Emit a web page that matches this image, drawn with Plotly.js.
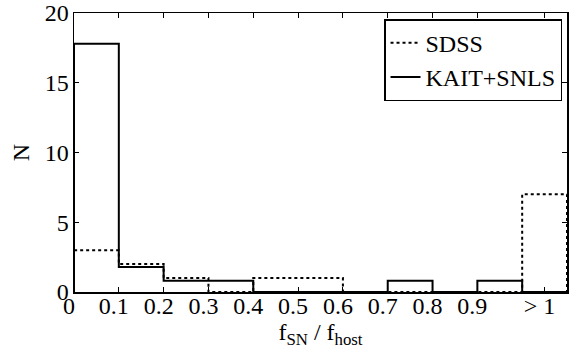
<!DOCTYPE html>
<html>
<head>
<meta charset="utf-8">
<script src="https://cdn.plot.ly/plotly-3.0.1.min.js"></script>
<style>html,body{margin:0;padding:0;background:#fff;}#chart{width:570px;height:363px;}</style>
</head>
<body>
<div id="chart"></div>
<script>
// Bin edges (the last bin, 1.0-1.1, stands for "> 1")
var binEdges = [0, 0.1, 0.2, 0.3, 0.4, 0.5, 0.6, 0.7, 0.8, 0.9, 1.0, 1.1];
var sdssCounts = [3, 2, 1, 0, 1, 1, 0, 0, 0, 0, 7];
var kaitSnlsCounts = [17.8, 1.8, 0.8, 0.8, 0, 0, 0, 0.8, 0, 0.8, 0];
var tickPositions = [0, 0.1, 0.2, 0.3, 0.4, 0.5, 0.6, 0.7, 0.8, 0.9, 1.05];
var tickLabels = ['0', '0.1', '0.2', '0.3', '0.4', '0.5', '0.6', '0.7', '0.8', '0.9', '> 1'];
var yTicks = [0, 5, 10, 15, 20];

function stairs(edges, counts) {
  var xs = [edges[0]], ys = [0];
  for (var i = 0; i < counts.length; i++) {
    xs.push(edges[i]); ys.push(counts[i]);
    xs.push(edges[i + 1]); ys.push(counts[i]);
  }
  xs.push(edges[edges.length - 1]); ys.push(0);
  return {x: xs, y: ys};
}

var s1 = stairs(binEdges, sdssCounts);
var s2 = stairs(binEdges, kaitSnlsCounts);

var font = 'Liberation Serif';
var data = [
  {x: s1.x, y: s1.y, mode: 'lines', name: 'SDSS', line: {color: '#000', width: 2, dash: '3px,3px'}},
  {x: s2.x, y: s2.y, mode: 'lines', name: 'KAIT+SNLS', line: {color: '#000', width: 2}}
];

var layout = {
  width: 570, height: 363,
  margin: {l: 74, r: 3, t: 13, b: 71},
  paper_bgcolor: '#fff', plot_bgcolor: '#fff',
  font: {family: font, color: '#000', size: 24},
  showlegend: true,
  legend: {x: 0.9899, y: 0.978, xanchor: 'right', yanchor: 'top', bordercolor: '#000', borderwidth: 1.5,
           bgcolor: '#fff', font: {family: font, size: 24, color: '#000'}, tracegroupgap: 0},
  xaxis: {
    range: [0, 1.1], tickmode: 'array', tickvals: tickPositions, ticktext: tickLabels,
    ticks: 'inside', ticklen: 5, tickwidth: 1, tickcolor: '#000',
    showline: true, linecolor: '#000', linewidth: 1.5, mirror: 'ticks',
    showgrid: false, zeroline: false, ticklabelshift: -5, ticklabelstandoff: -8,
    tickfont: {family: font, size: 24, color: '#000'},
    title: {text: 'f<sub>SN</sub> / f<sub>host</sub>', font: {family: font, size: 24, color: '#000'}, standoff: 4}
  },
  yaxis: {
    range: [0, 20], tickmode: 'array', tickvals: yTicks,
    ticks: 'inside', ticklen: 5, tickwidth: 1, tickcolor: '#000',
    showline: true, linecolor: '#000', linewidth: 1.5, mirror: 'ticks',
    showgrid: false, zeroline: false, ticklabelstandoff: -1,
    tickfont: {family: font, size: 24, color: '#000'},
    title: {text: 'N', font: {family: font, size: 24, color: '#000'}, standoff: 8}
  }
};

Plotly.newPlot('chart', data, layout, {staticPlot: true, displayModeBar: false});
</script>
</body>
</html>
